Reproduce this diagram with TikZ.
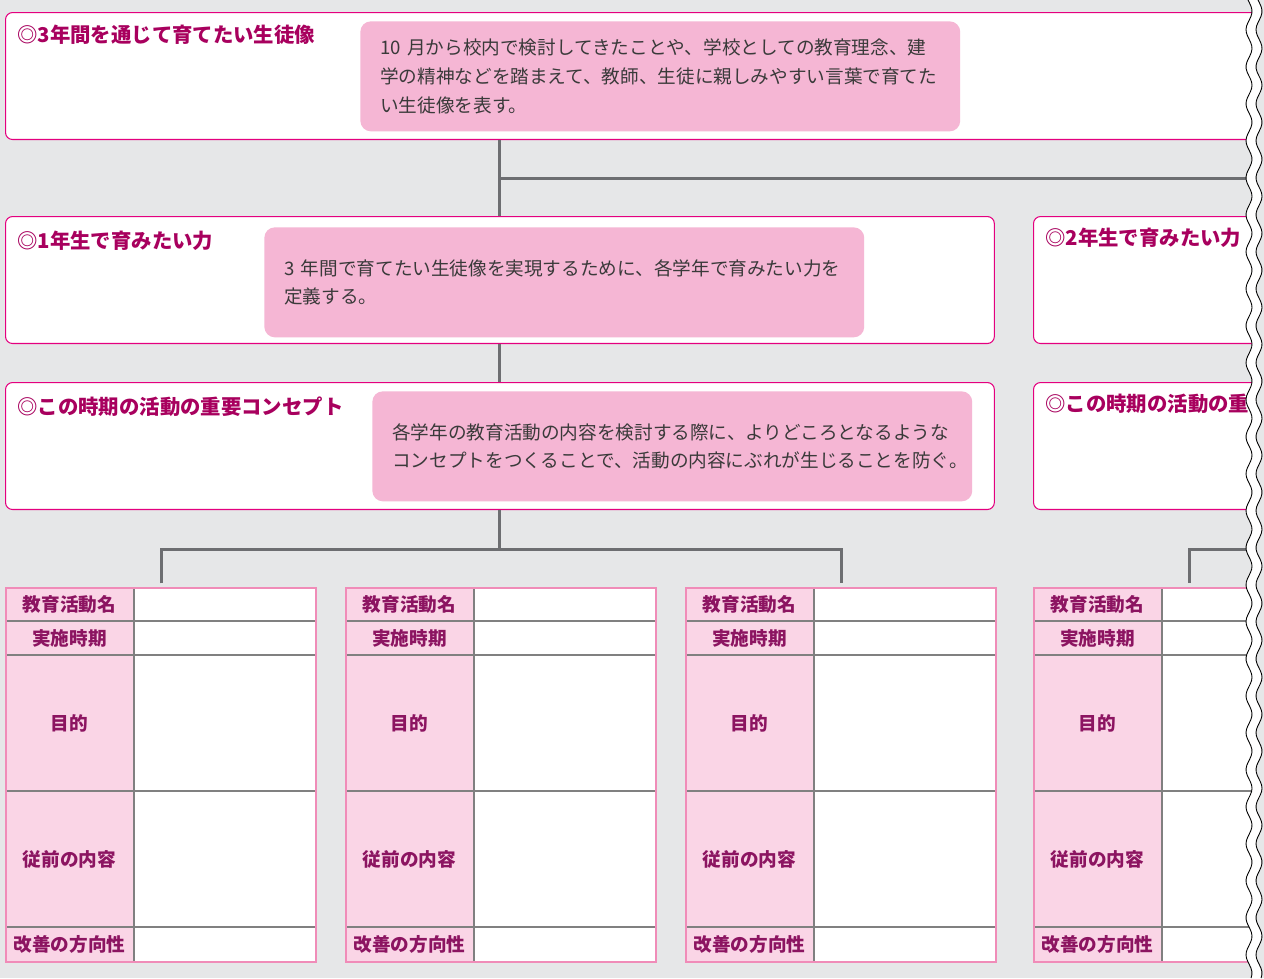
\documentclass[tikz,border=0pt]{standalone}
\usepackage{fontspec}
\setmainfont{Noto Sans CJK JP}
\usetikzlibrary{positioning}

\definecolor{bggray}{HTML}{E6E7E8}
\definecolor{framepink}{HTML}{E4007F}
\definecolor{notepink}{HTML}{F5B6D4}
\definecolor{titlered}{HTML}{A8005E}
\definecolor{labelred}{HTML}{8C1461}
\definecolor{cellpink}{HTML}{FAD5E6}
\definecolor{tablepink}{HTML}{F08CB8}
\definecolor{linkgray}{HTML}{6D6E71}
\definecolor{rulegray}{HTML}{808080}
\definecolor{notetext}{HTML}{3A3A3A}

\tikzset{
  framebox/.style={draw=framepink, fill=white, line width=0.6pt, rounded corners=4pt, anchor=north west, inner sep=0pt},
  notebox/.style={fill=notepink, rounded corners=6pt, anchor=north west, text width=11.2cm, inner xsep=0.4cm, minimum height=2.2cm, align=left, text=notetext, font=\fontsize{10.6}{16.3}\selectfont},
  titletext/.style={anchor=west, text=titlered, inner sep=0pt, font=\fontsize{11.6}{14}\selectfont\bfseries},
  link/.style={draw=linkgray, line width=1.7pt},
  labeltext/.style={text=labelred, inner sep=0pt, font=\fontsize{10.6}{12}\selectfont\bfseries},
  tablebox/.style={draw=tablepink, line width=1.2pt, anchor=north west, inner sep=0pt, minimum width=6.2cm, minimum height=7.48cm},
  rule/.style={draw=rulegray, line width=0.8pt},
}

\begin{document}
\begin{tikzpicture}[x=0.02cm, y=-0.02cm]
    % Background
    \useasboundingbox (0,0) rectangle (1264,978);
    \fill[bggray] (0,0) rectangle (1264,978);

    % Goal for the three years
    \node[framebox, minimum width=25.14cm, minimum height=2.54cm] (goal) at (5,12) {};
    \node[titletext] (goalT) at (17,35) {◎3年間を通じて育てたい生徒像};
    \node[notebox] (goalN) at (360,21) {10 月から校内で検討してきたことや、学校としての教育理念、建\\学の精神などを踏まえて、教師、生徒に親しみやすい言葉で育てた\\い生徒像を表す。};

    % First and second year
    \node[framebox, minimum width=19.78cm, minimum height=2.54cm] (grade1) at (5,216) {};
    \node[titletext] (grade1T) at (17,241) {◎1年生で育みたい力};
    \node[notebox] (grade1N) at (264,227) {3 年間で育てたい生徒像を実現するために、各学年で育みたい力を\\定義する。};
    \node[framebox, minimum width=5cm, minimum height=2.54cm] (grade2) at (1033,216) {};
    \node[titletext] (grade2T) at (1045,238) {◎2年生で育みたい力};

    % Key concept of the period
    \node[framebox, minimum width=19.78cm, minimum height=2.54cm] (concept1) at (5,382) {};
    \node[titletext] (concept1T) at (17,407) {◎この時期の活動の重要コンセプト};
    \node[notebox] (concept1N) at (372,391) {各学年の教育活動の内容を検討する際に、よりどころとなるような\\コンセプトをつくることで、活動の内容にぶれが生じることを防ぐ。};
    \node[framebox, minimum width=5cm, minimum height=2.54cm] (concept2) at (1033,382) {};
    \node[titletext] (concept2T) at (1045,404) {◎この時期の活動の重};

    % Activity tables
    \foreach \tx/\tn in {5/a, 345/b, 685/c, 1033/d} {
        \fill[white] (\tx,587) rectangle ++(310,374);
        \fill[cellpink] (\tx,587) rectangle ++(129,374);
        \foreach \ry in {621,655,791,927}
            \draw[rule] (\tx,\ry) -- ++(310,0);
        \draw[rule] (\tx+129,587) -- ++(0,374);
        \node[labeltext] (name\tn) at (\tx+64.5,604) {教育活動名};
        \node[labeltext] (date\tn) at (\tx+64.5,638) {実施時期};
        \node[labeltext] (aim\tn) at (\tx+64.5,723) {目的};
        \node[labeltext] (prev\tn) at (\tx+64.5,859) {従前の内容};
        \node[labeltext] (plan\tn) at (\tx+64.5,944) {改善の方向性};
        \node[tablebox] (tbl\tn) at (\tx,587) {};
    }

    % Connectors
    \coordinate (j1) at (499,178);
    \coordinate (j1end) at (1262,178);
    \coordinate (j2) at (499,549);
    \coordinate (j3end) at (1262,549);
    \draw[link] (goal.south -| j1) -- (grade1.north -| j1);
    \draw[link] (j1) -- (j1end);
    \draw[link] (grade1.south -| j1) -- (concept1.north -| j1);
    \draw[link] (concept1.south -| j2) -- (j2);
    \draw[link] ([yshift=2pt]tbla.north) |- (j2) -| ([yshift=2pt]tblc.north);
    \draw[link] (j3end) -| ([yshift=2pt]tbld.north);

    % Torn right edge
    \fill[white] plot[variable=\t, domain=0:978, samples=300] ({1249+3*sin(9.73*(\t-39))},\t) -- (1270,978) -- (1270,0) -- cycle;
    \fill[bggray] plot[variable=\t, domain=0:978, samples=300] ({1259+3*sin(9.73*(\t-39))},\t) -- (1270,978) -- (1270,0) -- cycle;
    \draw[black, line width=0.5pt] plot[variable=\t, domain=0:978, samples=300] ({1249+3*sin(9.73*(\t-39))},\t);
    \draw[black, line width=0.5pt] plot[variable=\t, domain=0:978, samples=300] ({1259+3*sin(9.73*(\t-39))},\t);
\end{tikzpicture}
\end{document}
